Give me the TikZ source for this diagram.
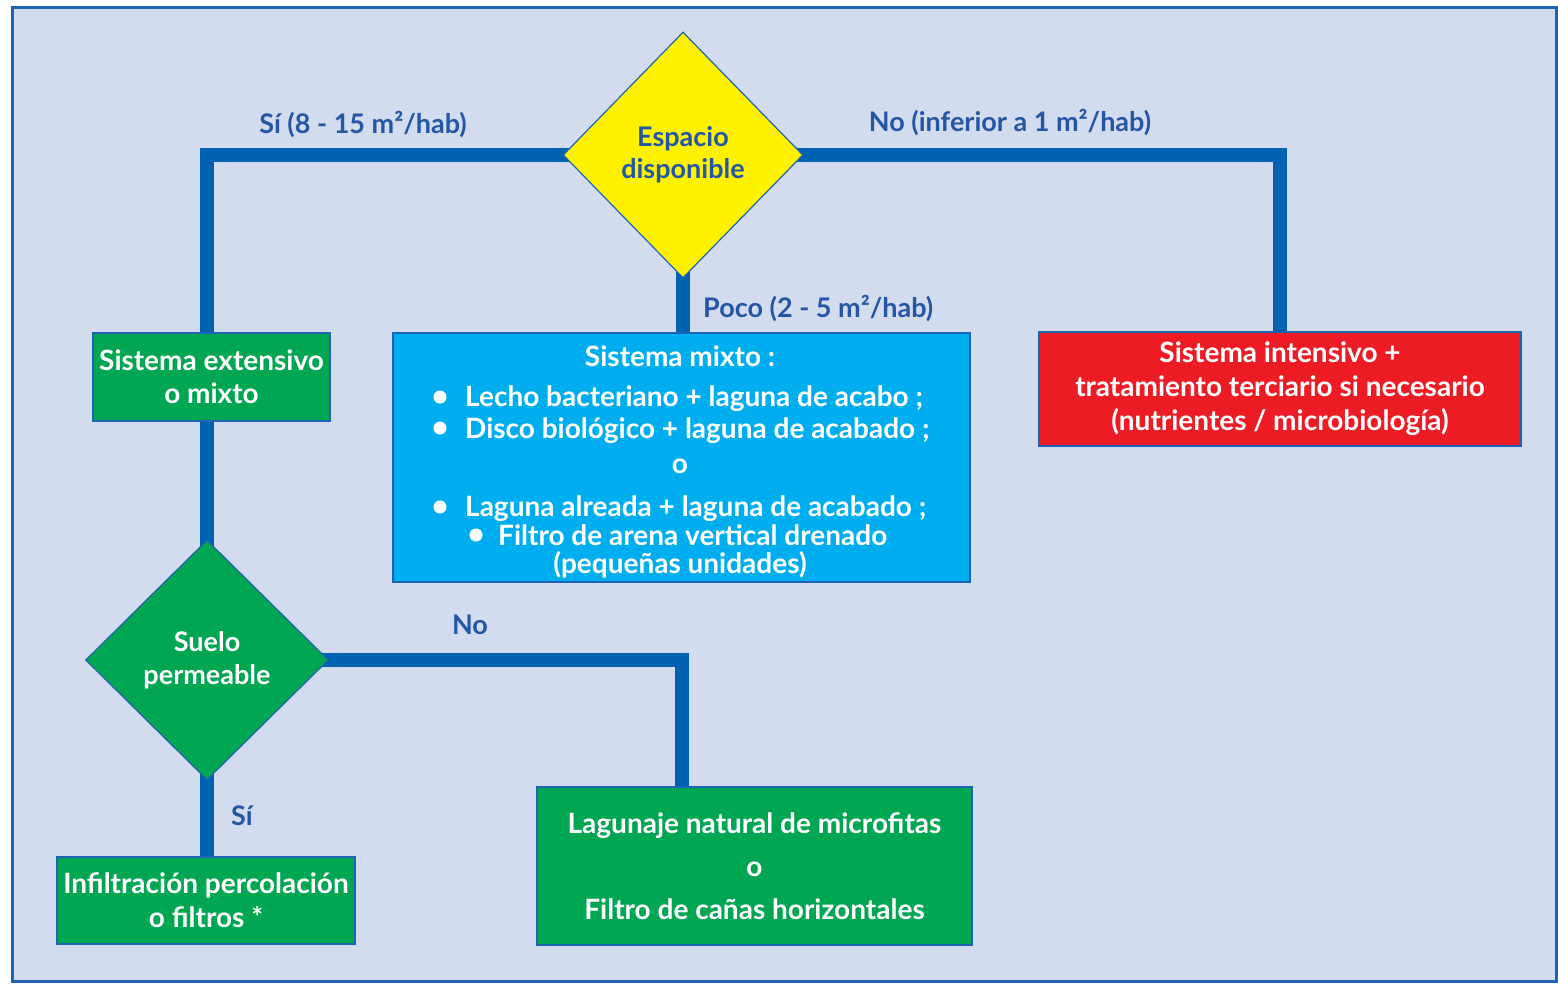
\documentclass[tikz,border=0pt]{standalone}
\usepackage{fontspec}
\setmainfont{Lato}
\usetikzlibrary{shapes.geometric}
\pgfdeclarelayer{back}
\pgfdeclarelayer{lines}
\pgfsetlayers{back,lines,main}
\definecolor{bg}{HTML}{D3DCEE}
\definecolor{frame}{HTML}{1E64B4}
\definecolor{conn}{HTML}{0062B1}
\definecolor{lbl}{HTML}{2357A5}
\definecolor{yel}{HTML}{FFF200}
\definecolor{grn}{HTML}{00A651}
\definecolor{cyn}{HTML}{00AEEF}
\definecolor{rd}{HTML}{ED1C24}
\tikzset{
  box/.style={draw=frame, line width=1.5pt, text=white, inner sep=0pt, align=center,
    font=\fontsize{28}{33}\selectfont\bfseries},
  decision/.style={shape=diamond, draw=frame, line width=1.2pt, inner sep=0pt, align=center,
    font=\fontsize{27}{33}\selectfont\bfseries},
  connector/.style={draw=conn, line width=14pt, line join=miter},
  lab/.style={text=lbl, inner sep=0pt, font=\fontsize{27}{30}\selectfont\bfseries},
  boxtext/.style={text=white, inner sep=0pt, font=\fontsize{28}{30}\selectfont\bfseries},
  bul/.style={boxtext, anchor=base west},
  dot/.style={fill=white}
}
\begin{document}
\begin{tikzpicture}[x=1pt,y=-1pt]
\useasboundingbox (0,0) rectangle (1558,983);
\begin{pgfonlayer}{back}
\fill[white] (0,0) rectangle (1558,983);
\draw[fill=bg, draw=frame, line width=3pt] (12,7) rectangle (1556,981);
\end{pgfonlayer}

% nodes
\node[decision, fill=yel, text=lbl, minimum width=240pt, minimum height=246pt] (esp) at (683,155) {Espacio\\[-1pt]disponible};
\node[box, fill=grn, minimum width=237pt, minimum height=88pt] (ext) at (211.5,377) {Sistema extensivo\\o mixto};
\node[box, fill=cyn, minimum width=577pt, minimum height=249pt] (mix) at (681.5,457.5) {};
\node[box, fill=rd, minimum width=482pt, minimum height=114pt, font=\fontsize{28}{34}\selectfont\bfseries] (int) at (1280,389) {Sistema intensivo +\\tratamiento terciario si necesario\\(nutrientes / microbiología)};
\node[decision, fill=grn, text=white, minimum width=243pt, minimum height=240pt] (suelo) at (207,660) {Suelo\\permeable};
\node[box, fill=grn, minimum width=298pt, minimum height=87pt, font=\fontsize{28}{34}\selectfont\bfseries] (inf) at (206,900.5) {Infiltración percolación\\o filtros *};
\node[box, fill=grn, minimum width=435pt, minimum height=158pt, font=\fontsize{28}{43}\selectfont\bfseries] (lag) at (754.5,866) {Lagunaje natural de microfitas\\o\\Filtro de cañas horizontales};
\coordinate (lagin) at (682,866);

% text of the mixed-system box
\node[boxtext] (m0) at (680,356) {Sistema mixto :};
\fill[dot] (440,397) circle (6.5pt);
\node[bul] (m1) at (465,406) {Lecho bacteriano + laguna de acabo ;};
\fill[dot] (440,428) circle (6.5pt);
\node[bul] (m2) at (465,438) {Disco biológico + laguna de acabado ;};
\node[boxtext] (m3) at (680,466) {o};
\fill[dot] (440,507) circle (6.5pt);
\node[bul] (m4) at (465,516) {Laguna alreada + laguna de acabado ;};
\fill[dot] (476,535) circle (6.5pt);
\node[bul] (m5) at (498,545) {Filtro de arena vertical drenado};
\node[boxtext] (m6) at (680,565) {(pequeñas unidades)};

% connectors
\begin{pgfonlayer}{lines}
\draw[connector] (esp.center) -| (ext.center -| suelo.center);
\draw[connector] (esp.center) -| (int.center);
\draw[connector] (esp.center) -- (esp.center |- mix.center);
\draw[connector] (ext.center -| suelo.center) -- (suelo.center);
\draw[connector] (suelo.center) -| (lagin);
\draw[connector] (suelo.center) -- (suelo.center |- inf.center);
\end{pgfonlayer}

% labels
\node[lab] (l1) at (363,124) {Sí (8 - 15 m²/hab)};
\node[lab] (l2) at (1010,122) {No (inferior a 1 m²/hab)};
\node[lab, anchor=west] (l3) at (703,308) {Poco (2 - 5 m²/hab)};
\node[lab] (l4) at (470,625) {No};
\node[lab] (l5) at (242,816) {Sí};
\end{tikzpicture}
\end{document}
